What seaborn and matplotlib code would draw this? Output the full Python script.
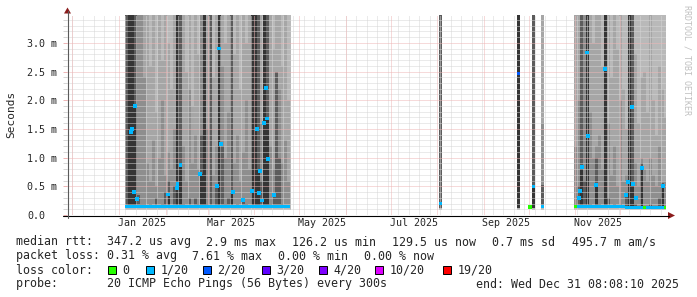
import numpy as np
import pandas as pd
import matplotlib
matplotlib.use('Agg')
import matplotlib.pyplot as plt
import matplotlib.dates as mdates
import matplotlib.ticker as mticker
from matplotlib.patches import Rectangle, Polygon
import seaborn as sns

sns.set_style('white')
plt.rcParams['font.family'] = ['DejaVu Sans Mono', 'DejaVu Sans']

# smokeping loss colours
loss_colors = {0: '#26ff00', 1: '#00b8ff', 2: '#0059ff', 3: '#5e00ff',
               4: '#7e00ff', 10: '#dd00ff', 19: '#ff0000'}
loss_labels = ['0', '1/20', '2/20', '3/20', '4/20', '10/20', '19/20']

# periods with data (outer smoke goes past the top of the graph)
data_from = ['2025-01-05 00:00', '2025-08-02 00:00', '2025-09-23 00:00', '2025-10-03 00:00', '2025-10-09 00:00', '2025-10-31 00:00']
data_to = ['2025-04-25 12:00', '2025-08-04 00:00', '2025-09-25 00:00', '2025-10-05 00:00', '2025-10-11 00:00', '2025-12-31 08:08']

# block 1, 2 day bins from 2025-01-05 (ms)
s1_a = [3.5, 3.5, 3.5, 3.5, 3.5, 3.5, 3.5, 3.5, 2.6, 3.5, 1.8, 3.5, 2.7, 3.5, 3.0, 2.2, 3.5, 3.5, 3.5, 3.5,
        2.5, 3.5, 1.9, 3.5, 2.8, 3.5, 3.5, 3.5, 3.5, 2.4, 3.5, 3.5, 3.5, 3.0, 3.5, 3.5, 2.8, 3.5, 2.2, 3.5,
        3.0, 3.5, 3.5, 3.5, 3.5, 3.5, 3.5, 3.5, 3.5, 2.9, 3.5, 3.5, 2.6, 3.5, 2.0]
s1_b = [3.5, 3.5, 3.5, 3.5, 3.5, 3.5, 2.4, 0.9, 0.6, 1.3, 0.5, 1.0, 2.0, 0.7, 1.1, 0.8, 1.5, 3.5, 3.5, 1.2,
        0.6, 2.2, 0.9, 1.4, 0.8, 3.5, 3.5, 1.5, 3.5, 0.7, 1.2, 3.5, 2.6, 1.0, 1.8, 3.5, 0.9, 1.4, 0.6, 1.1,
        2.0, 0.8, 3.5, 3.5, 3.5, 1.6, 3.5, 3.5, 1.2, 0.8, 1.5, 2.2, 0.9, 1.3, 0.6]
s1_c = [3.5, 3.5, 3.5, 3.5, 0.35, 0.2, 0.2, 0.0, 0.2, 0.0, 0.3, 0.0, 0.2, 0.4, 0.6, 0.0, 0.5, 3.5, 3.5, 0.2,
        0.0, 0.3, 0.0, 0.3, 0.2, 1.4, 3.5, 0.2, 3.5, 0.0, 0.5, 3.5, 1.2, 0.2, 0.3, 3.5, 0.0, 0.2, 0.0, 0.26,
        0.2, 0.0, 3.5, 3.5, 3.5, 0.6, 3.5, 3.5, 0.2, 0.35, 2.5, 1.0, 0.2, 0.0, 0.0]
s1_d = [0.0, 3.5, 3.5, 1.9, 0.0, 0.0, 0.0, 0.0, 0.0, 0.0, 0.0, 0.0, 0.0, 0.0, 0.36, 0.0, 0.0, 3.5, 0.87, 0.0,
        0.0, 0.0, 0.0, 0.0, 0.0, 0.71, 3.5, 0.0, 0.0, 0.0, 0.0, 3.5, 0.0, 0.0, 0.0, 0.4, 0.0, 0.0, 0.0, 0.0,
        0.0, 0.0, 3.5, 3.5, 0.8, 0.0, 3.5, 1.68, 0.0, 0.0, 0.0, 0.0, 0.0, 0.0, 0.0]
s1_med = [0.15, 0.15, 0.15, 0.15, 0.15, 0.15, 0.15, 0.15, 0.15, 0.15, 0.15, 0.15, 0.15, 0.15, 0.15, 0.15, 0.15, 0.15, 0.15, 0.15,
          0.15, 0.15, 0.15, 0.15, 0.15, 0.15, 0.15, 0.15, 0.15, 0.15, 0.15, 0.15, 0.15, 0.15, 0.15, 0.15, 0.15, 0.15, 0.15, 0.15,
          0.15, 0.15, 0.15, 0.15, 0.15, 0.15, 0.15, 0.15, 0.15, 0.15, 0.15, 0.15, 0.15, 0.15, 0.15]
s1_loss = [1] * 55

# block 2, 2 day bins from 2025-10-31 (ms)
s2_a = [3.5, 3.5, 3.5, 3.5, 3.5, 3.5, 3.0, 3.5, 3.5, 2.6, 3.5, 3.5, 2.4, 3.5, 2.9, 3.5, 2.2, 1.5, 3.5, 3.5,
        2.8, 1.6, 2.4, 2.5, 1.8, 3.5, 2.0, 1.4, 2.6, 2.2, 1.7]
s2_b = [1.2, 2.0, 3.5, 3.5, 3.5, 1.8, 1.0, 1.2, 1.4, 0.8, 3.5, 1.6, 0.7, 1.2, 0.5, 2.0, 0.6, 0.7, 3.5, 3.5,
        0.9, 0.5, 1.0, 0.8, 0.6, 1.0, 0.7, 0.5, 1.2, 0.6, 0.6]
s2_c = [0.2, 0.5, 3.5, 0.6, 3.5, 0.2, 0.0, 1.0, 0.2, 0.0, 3.5, 0.3, 0.0, 0.2, 0.0, 0.2, 0.0, 0.4, 3.5, 3.5,
        0.2, 0.0, 0.9, 0.0, 0.0, 0.2, 0.0, 0.0, 0.3, 0.55, 0.0]
s2_d = [0.0, 0.0, 0.84, 0.0, 3.5, 0.0, 0.0, 0.52, 0.0, 0.0, 3.5, 0.0, 0.0, 0.0, 0.0, 0.0, 0.0, 0.0, 3.5, 0.54,
        0.0, 0.0, 0.82, 0.0, 0.0, 0.0, 0.0, 0.0, 0.0, 0.5, 0.0]
s2_med = [0.14, 0.15, 0.15, 0.15, 0.15, 0.15, 0.15, 0.15, 0.15, 0.15, 0.15, 0.15, 0.15, 0.15, 0.15, 0.15, 0.15, 0.13, 0.13, 0.13,
          0.13, 0.13, 0.13, 0.13, 0.13, 0.13, 0.13, 0.13, 0.13, 0.13, 0.13]
s2_loss = [0, 1, 1, 1, 1, 1, 1, 1, 1, 1, 1, 1, 1, 1, 1, 1, 1, 1, 1, 1,
           1, 1, 1, 0, 1, 1, 1, 1, 1, 1, 0]

# short runs in between
iso_time = ['2025-08-02', '2025-09-23', '2025-10-03', '2025-10-09']
iso_a = [3.5, 3.5, 3.5, 3.5]
iso_b = [3.5, 3.5, 3.5, 1.6]
iso_c = [3.5, 3.5, 3.5, 0.52]
iso_d = [0.0, 3.5, 0.49, 0.0]
iso_med = [0.2, 2.46, 0.49, 0.14]
iso_loss = [1, 2, 1, 1]

# single high median readings
spike_time = ['2025-01-09 00:00', '2025-01-09 12:00', '2025-01-11 12:00', '2025-01-11 00:00', '2025-01-13 00:00',
              '2025-02-02 12:00', '2025-02-08 12:00', '2025-02-09 00:00', '2025-02-11 00:00', '2025-02-23 22:00',
              '2025-03-07 05:00', '2025-03-08 14:00', '2025-03-09 22:00', '2025-03-17 22:00', '2025-03-24 14:00',
              '2025-03-30 14:00', '2025-04-02 17:00', '2025-04-04 05:00', '2025-04-04 22:00', '2025-04-06 05:00',
              '2025-04-07 12:00', '2025-04-08 17:00', '2025-04-09 17:00', '2025-04-10 05:00', '2025-04-14 05:00',
              '2025-10-01 17:00', '2025-11-03 07:00', '2025-11-04 00:00', '2025-11-05 10:00', '2025-11-08 17:00',
              '2025-11-09 10:00', '2025-11-14 17:00', '2025-11-20 17:00', '2025-12-04 17:00', '2025-12-06 00:00',
              '2025-12-08 14:00', '2025-12-09 07:00', '2025-12-11 07:00', '2025-12-15 07:00', '2025-12-29 07:00']
spike_rtt = [1.45, 1.5, 1.9, 0.4, 0.28, 0.36, 0.47, 0.54, 0.87, 0.71,
             0.5, 2.9, 1.24, 0.4, 0.26, 0.42, 1.5, 0.38, 0.77, 0.25,
             1.6, 2.21, 1.68, 0.97, 0.35, 0.14, 0.3, 0.42, 0.84, 2.83,
             1.38, 0.52, 2.54, 0.35, 0.57, 1.88, 0.54, 0.3, 0.82, 0.5]
spike_loss = [1] * 25 + [0] + [1] * 14

smoke_cols = ['#a6a6a6', '#8e8e8e', '#5c5c5c', '#353535']


def draw_block(ax, t, layers, med, loss):
    for vals, col in zip(layers, smoke_cols):
        v = np.array(vals)
        ax.bar(t, np.clip(v - 0.12, 0, None), bottom=0.12, width=2, align='edge',
               color=col, linewidth=0, antialiased=False, zorder=1.2)
    ax.bar(t, 0.052, bottom=np.array(med) - 0.026, width=2, align='edge',
           color=[loss_colors[l] for l in loss], linewidth=0, antialiased=False, zorder=3)


fig = plt.figure(figsize=(6.97, 2.97), dpi=100)
ax = fig.add_axes([67 / 697, 82 / 297, 599 / 697, 200.3 / 297])

# outer smoke
for a, b in zip(pd.to_datetime(data_from), pd.to_datetime(data_to)):
    ax.bar(a, 3.6, bottom=0.08, width=(b - a) / pd.Timedelta(days=1), align='edge',
           color='#b9b9b9', linewidth=0, antialiased=False, zorder=1.1)

draw_block(ax, pd.date_range('2025-01-05', periods=len(s1_a), freq='2D'),
           [s1_a, s1_b, s1_c, s1_d], s1_med, s1_loss)
draw_block(ax, pd.date_range('2025-10-31', periods=len(s2_a), freq='2D'),
           [s2_a, s2_b, s2_c, s2_d], s2_med, s2_loss)
draw_block(ax, pd.to_datetime(iso_time), [iso_a, iso_b, iso_c, iso_d], iso_med, iso_loss)

spikes = pd.DataFrame({'t': pd.to_datetime(spike_time), 'rtt': spike_rtt, 'loss': spike_loss})
sns.scatterplot(data=spikes, x='t', y='rtt', hue='loss', palette=loss_colors, marker='s',
                s=7, linewidth=0, legend=False, ax=ax, zorder=4)

ax.set_xlim(pd.Timestamp('2024-11-27 08:08:10'), pd.Timestamp('2025-12-31 08:08:10'))
ax.set_ylim(0, 3.49)
ax.set_xlabel('')
ax.set_ylabel('')
for s in ax.spines.values():
    s.set_visible(False)

# grid on top of the smoke like rrdtool
ax.set_axisbelow(False)
grid_gray = '#d6d6d6'
grid_red = '#efb6b6'
ax.xaxis.set_minor_locator(mdates.WeekdayLocator(byweekday=mdates.SU))
ax.yaxis.set_minor_locator(mticker.MultipleLocator(0.1))
ax.grid(which='minor', color=grid_gray, linestyle=(0, (1, 1)), linewidth=0.72)
ax.grid(which='major', axis='y', color=grid_red, linestyle=(0, (1, 1)), linewidth=0.72)
for m in pd.date_range('2024-12-01', '2025-12-01', freq='MS'):
    ax.axvline(m, color=grid_red, linestyle=(0, (1, 1)), linewidth=0.72, zorder=2.6)

yt = [0, 0.5, 1.0, 1.5, 2.0, 2.5, 3.0]
ax.set_yticks(yt, ['0.0'] + [f'{v:.1f} m' for v in yt[1:]])
for lab in ax.get_yticklabels():
    lab.set_horizontalalignment('left')
ax.tick_params(axis='y', which='major', left=True, length=3, width=0.72, color=grid_red,
               pad=25.6, labelsize=7.2)
ax.tick_params(axis='y', which='minor', left=True, length=3, width=0.72, color=grid_gray)

label_months = pd.to_datetime(['2025-01-01', '2025-03-01', '2025-05-01', '2025-07-01', '2025-09-01', '2025-11-01'])
mids = label_months + (label_months + pd.offsets.MonthBegin(1) - label_months) / 2
ax.set_xticks(mids, [m.strftime('%b %Y') for m in label_months])
ax.tick_params(axis='x', which='both', bottom=False, length=0, pad=2.5, labelsize=7.2)

# frame, arrows and legend in pixel coordinates
ov = fig.add_axes([0, 0, 1, 1])
ov.set_xlim(0, 697)
ov.set_ylim(297, 0)
ov.axis('off')
ov.patch.set_alpha(0)
ov.plot([63, 669], [215.5, 215.5], color='black', lw=0.8)
ov.plot([67.5, 67.5], [218, 11], color='#5a5a5a', lw=0.8)
ov.add_patch(Polygon([(668, 212), (668, 219), (675, 215.5)], closed=True, color='#8b1c1c', lw=0))
ov.add_patch(Polygon([(64, 13.5), (71, 13.5), (67.5, 7.5)], closed=True, color='#8b1c1c', lw=0))

ov.text(11, 114, 'Seconds', rotation=90, ha='center', va='center', fontsize=8)
ov.text(686.5, 5, 'RRDTOOL / TOBI OETIKER', rotation=270, ha='center', va='top',
        fontsize=6, color='#c0c0c0')

fs = 8.37
line1 = [(16, 'median rtt:  347.2 us avg'), (207, '2.9 ms max'), (293, '126.2 us min'),
         (393, '129.5 us now'), (493, '0.7 ms sd'), (572, '495.7 m am/s')]
line2 = [(16, 'packet loss: 0.31 % avg'), (193, '7.61 % max'), (279, '0.00 % min'), (365, '0.00 % now')]
for x, s in line1:
    ov.text(x - 0.5, 245.5, s, fontsize=fs, va='baseline')
for x, s in line2:
    ov.text(x - 0.5, 259.5, s, fontsize=fs, va='baseline')
ov.text(15.5, 273.5, 'loss color:', fontsize=fs, va='baseline')
box_x = [108, 146, 203, 262, 319, 375, 443]
for bx, lab, key in zip(box_x, loss_labels, loss_colors):
    ov.add_patch(Rectangle((bx, 265.5), 8, 8, facecolor=loss_colors[key], edgecolor='black', lw=0.7))
    ov.text(bx + 14.5, 273.5, lab, fontsize=fs, va='baseline')
ov.text(15.5, 287.5, 'probe:       20 ICMP Echo Pings (56 Bytes) every 300s', fontsize=fs, va='baseline')
ov.text(679.5, 287.5, 'end: Wed Dec 31 08:08:10 2025', fontsize=fs, va='baseline', ha='right')

fig.savefig('out.png', dpi=100)
